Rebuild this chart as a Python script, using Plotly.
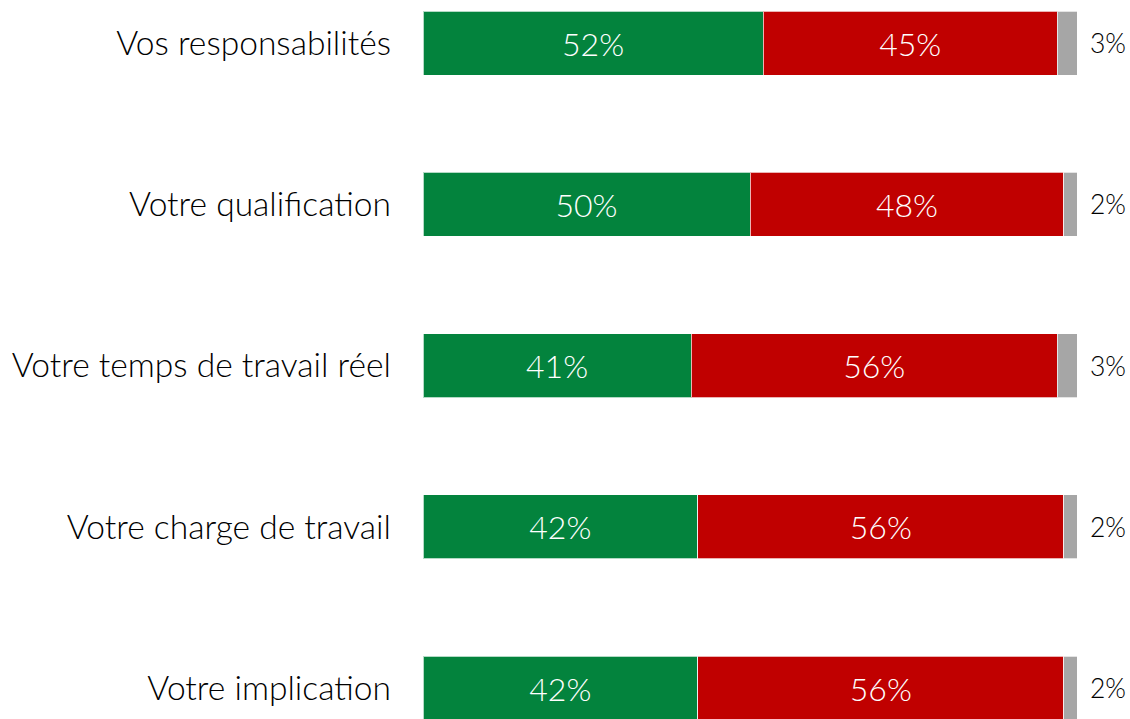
import plotly.graph_objects as go

categories = ["Vos responsabilités", "Votre qualification", "Votre temps de travail réel",
              "Votre charge de travail", "Votre implication"]
oui = [52, 50, 41, 42, 42]
non = [45, 48, 56, 56, 56]
nsp = [3, 2, 3, 2, 2]

GREEN = "#03833D"
RED = "#C00000"
GRAY = "#A6A6A6"
FONT = "Lato"

fig = go.Figure()
common = dict(orientation="h", y=categories, width=0.397,
              marker_line=dict(color="rgba(255,255,255,0.7)", width=1))
fig.add_trace(go.Bar(x=oui, marker_color=GREEN, text=[f"{v}%" for v in oui],
                     textposition="inside", insidetextanchor="middle",
                     textfont=dict(color="white", size=32, family=FONT, weight=300), **common))
fig.add_trace(go.Bar(x=non, marker_color=RED, text=[f"{v}%" for v in non],
                     textposition="inside", insidetextanchor="middle",
                     textfont=dict(color="white", size=32, family=FONT, weight=300), **common))
fig.add_trace(go.Bar(x=nsp, marker_color=GRAY, hoverinfo="x", **common))

for c, a, b, g in zip(categories, oui, non, nsp):
    fig.add_annotation(x=a + b + g, y=c, text=f"{g}%", showarrow=False,
                       xanchor="left", yanchor="middle", xshift=11,
                       font=dict(size=26.5, color="#000000", family=FONT, weight=300))

fig.update_layout(
    barmode="stack", width=1130, height=719,
    margin=dict(l=423, r=53, t=0, b=0),
    paper_bgcolor="white", plot_bgcolor="white",
    showlegend=False,
    xaxis=dict(range=[0, 100], visible=False, fixedrange=True),
    yaxis=dict(type="category", categoryarray=categories, range=[4.192, -0.267],
               showgrid=False, zeroline=False, showline=False, ticks="",
               ticklabelstandoff=31,
               tickfont=dict(size=33.6, color="#000000", family=FONT, weight=300)),
    font=dict(family=FONT),
)
fig.write_html("out.html", post_script="document.body.style.margin='0';",
               config={"displayModeBar": False})
